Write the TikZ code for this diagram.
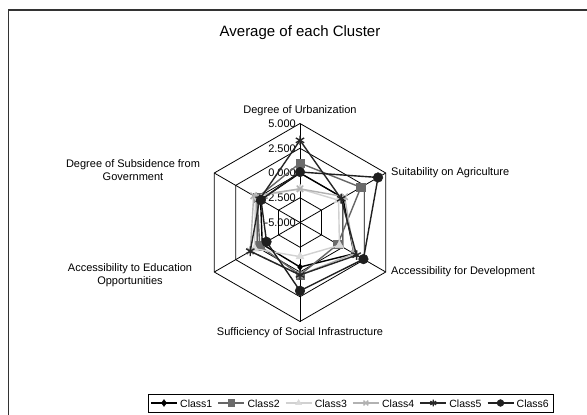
\documentclass[tikz,border=0pt]{standalone}
\usepackage{fontspec}
\setmainfont{Liberation Sans}
\usetikzlibrary{plotmarks,calc}
\begin{document}
\begin{tikzpicture}[x=1pt,y=-1pt,
  gridline/.style={draw=black,line width=0.8pt},
  axislabel/.style={font=\fontsize{11}{13}\selectfont,inner sep=1pt},
  ticklabel/.style={font=\fontsize{11}{12}\selectfont,anchor=east,inner sep=0pt},
  legtext/.style={font=\fontsize{10.5}{12}\selectfont,anchor=west,inner sep=0pt},
  sOne/.style={draw=black,line width=1.4pt},
  sTwo/.style={draw=black!60,line width=1.4pt},
  sThree/.style={draw=black!18,line width=1.4pt},
  sFour/.style={draw=black!30,line width=1.4pt},
  sFive/.style={draw=black!85,line width=1.4pt},
  sSix/.style={draw=black!88,line width=1.4pt},
  mOne/.style={mark=diamond*,mark size=3.2pt,mark options={solid,fill=black,draw=black,line width=0.5pt}},
  mTwo/.style={mark=square*,mark size=4.2pt,mark options={solid,fill=black!58,draw=black!58,line width=0.5pt}},
  mThree/.style={mark=triangle*,mark size=4.6pt,mark options={solid,fill=black!15,draw=black!15,line width=0.5pt}},
  mFour/.style={mark=x,mark size=4.5pt,mark options={solid,draw=black!30,line width=1.4pt}},
  mFive/.style={mark=asterisk,mark size=4.8pt,mark options={solid,draw=black!85,line width=1.4pt}},
  mSix/.style={mark=*,mark size=4.8pt,mark options={solid,fill=black!88,draw=black!88,line width=0.5pt}},
]
\useasboundingbox (0,0) rectangle (587,415);
\fill[white] (0,0) rectangle (587,415);
\draw[draw=black!80,line width=1.6pt] (8.5,415) -- (8.5,9.8) -- (587,9.8);
\node[font=\fontsize{15}{17}\selectfont] (title) at (300,33) {Average of each Cluster};
\coordinate (C) at (300,222.5);
% grid
\foreach \r in {24.75,49.5,74.25,99}
  \draw[gridline,shift={(C)}] (-90:\r) -- (-30:\r) -- (30:\r) -- (90:\r) -- (150:\r) -- (210:\r) -- cycle;
\foreach \a [count=\i] in {-90,-30,30,90,150,210}{
  \coordinate (v\i) at ($(C)+(\a:99)$);
  \draw[gridline] (C) -- (v\i);
}
% tick labels
\foreach \t [count=\k from 0] in {-5.000,-2.500,0.000,2.500,5.000}
  \node[ticklabel] (tick\k) at (296,{222.5-\k*24.75}) {\t};
% axis labels
\node[axislabel] (lab1) at (300,111) {Degree of Urbanization};
\node[axislabel,anchor=west] (lab2) at (390,173) {Suitability on Agriculture};
\node[axislabel,anchor=west] (lab3) at (390,272) {Accessibility for Development};
\node[axislabel] (lab4) at (300,333) {Sufficiency of Social Infrastructure};
\node[axislabel,align=center] (lab5) at (130,275) {Accessibility to Education\\Opportunities};
\node[axislabel,align=center] (lab6) at (133,170) {Degree of Subsidence from\\Government};
% data
\foreach \n/\vals/\ls/\ms in {
  1/{0.0,0.0,1.3,-0.5,-0.6,-0.4}/sOne/mOne,
  2/{1.0,2.1,-0.6,0.3,-0.3,0.0}/sTwo/mTwo,
  3/{-1.6,-0.5,-0.4,-1.55,0.3,0.2}/sThree/mThree,
  4/{-1.6,0.2,1.3,0.3,0.8,0.4}/sFour/mFour,
  5/{3.3,-0.2,1.6,0.3,0.8,-0.3}/sFive/mFive,
  6/{0.1,4.1,2.4,1.9,-1.1,-0.45}/sSix/mSix}{
  \foreach \v [count=\i] in \vals
    \coordinate (c\n-\i) at ($(C)+({-150+60*\i}:{(\v+5)*9.9})$);
  \draw[\ls] (c\n-1) -- (c\n-2) -- (c\n-3) -- (c\n-4) -- (c\n-5) -- (c\n-6) -- cycle;
  \path[\ms] plot[only marks] coordinates {(c\n-1) (c\n-2) (c\n-3) (c\n-4) (c\n-5) (c\n-6)};
}
% legend
\node[draw=black,line width=0.8pt,minimum width=405pt,minimum height=18pt,inner sep=0pt] (legbox) at (350.5,403) {};
\foreach \n/\ls/\ms [count=\j from 0] in {1/sOne/mOne,2/sTwo/mTwo,3/sThree/mThree,4/sFour/mFour,5/sFive/mFive,6/sSix/mSix}{
  \coordinate (la\n) at ({151+67.3*\j},403);
  \coordinate (lb\n) at ({177+67.3*\j},403);
  \coordinate (lm\n) at ({164+67.3*\j},403);
  \draw[\ls] (la\n) -- (lb\n);
  \path[\ms,mark size=3.4pt] plot[only marks] coordinates {(lm\n)};
  \node[legtext] (lt\n) at ({180+67.3*\j},403.5) {Class\n};
}
\end{tikzpicture}
\end{document}
